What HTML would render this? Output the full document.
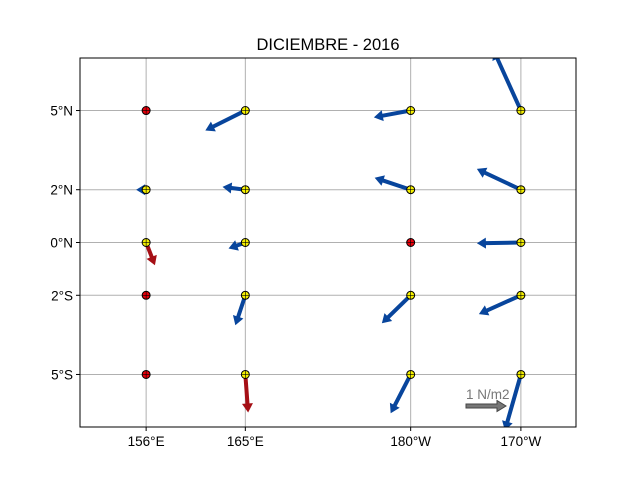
<!DOCTYPE html>
<html><head><meta charset="utf-8"><style>
body{margin:0;background:#fff}
svg text{font-family:"Liberation Sans","DejaVu Sans",sans-serif}
</style></head><body>
<svg id="chart" width="640" height="480" xmlns="http://www.w3.org/2000/svg">
<rect width="640" height="480" fill="#fff"/>
<text x="328" y="50" text-anchor="middle" font-size="16.5">DICIEMBRE - 2016</text>
<defs><clipPath id="clip"><rect x="80" y="58" width="496" height="369"/></clipPath></defs>
<g id="grid"></g>
<g id="arrows" clip-path="url(#clip)"></g>
<g id="markers"></g>
<rect x="80" y="58" width="496" height="369" fill="none" stroke="#000" stroke-width="1"/>
<g id="ticks"></g>
<g id="key"></g>
</svg>
<script>
const lonTicks=[156,165,180,190];
const lonLabels=["156°E","165°E","180°W","170°W"];
const latTicks=[5,2,0,-2,-5];
const latLabels=["5°N","2°N","0°N","2°S","5°S"];
const ptLon=[156,156,156,156,156,165,165,165,165,165,180,180,180,180,180,190,190,190,190,190];
const ptLat=[5,2,0,-2,-5,5,2,0,-2,-5,5,2,0,-2,-5,5,2,0,-2,-5];
const ptU=[0,-0.25,0.22,0,0,-1.0,-0.57,-0.42,-0.25,0.07,-0.92,-0.9,0,-0.72,-0.5,-0.68,-1.1,-1.1,-1.05,-0.4];
const ptV=[0,0,-0.57,0,0,-0.5,0.07,-0.15,-0.75,-0.95,-0.17,0.3,0,-0.7,-0.97,1.5,0.52,-0.02,-0.47,-1.4];
const ptValid=[0,1,1,0,0,1,1,1,1,1,1,1,0,1,1,1,1,1,1,1];
const ptRed=[0,0,1,0,0,0,0,0,0,1,0,0,0,0,0,0,0,0,0,0];
const X0=80,X1=576,LON0=150,LON1=195.0,Y0=58,Y1=427,LAT0=6.99,LAT1=-6.99;
const SC=40;
function xs(l){return X0+(l-LON0)/(LON1-LON0)*(X1-X0);}
function ys(l){return Y0+(LAT0-l)/(LAT0-LAT1)*(Y1-Y0);}
const NS="http://www.w3.org/2000/svg";
function mk(t,a,p){const e=document.createElementNS(NS,t);for(const k in a)e.setAttribute(k,a[k]);p.appendChild(e);return e;}
const G=document.getElementById('grid'),T=document.getElementById('ticks');
lonTicks.forEach((l,i)=>{const x=xs(l);
 const g=mk('line',{x1:x,x2:x,y1:Y0,y2:Y1,stroke:'#b0b0b0','stroke-width':1},G);
 
 mk('line',{x1:x,x2:x,y1:Y1,y2:Y1+4,stroke:'#000'},T);
 const t=mk('text',{x:x,y:Y1+19,'text-anchor':'middle','font-size':13.5},T);t.textContent=lonLabels[i];
 });
latTicks.forEach((l,i)=>{const y=ys(l);
 const g=mk('line',{x1:X0,x2:X1,y1:y,y2:y,stroke:'#b0b0b0','stroke-width':1},G);
 
 mk('line',{x1:X0-4,x2:X0,y1:y,y2:y,stroke:'#000'},T);
 const t=mk('text',{x:X0-7,y:y+5,'text-anchor':'end','font-size':13.5},T);t.textContent=latLabels[i];
 });
function arrow(x,y,dx,dy,fill,stroke,parent){
 const L=Math.hypot(dx,dy);if(L<0.5)return null;
 const ux=dx/L,uy=dy/L,px=-uy,py=ux;const w=2,hw=5.5,hl=Math.min(9,L);
 const bx=x+ux*(L-hl),by=y+uy*(L-hl);
 const pts=[[x+px*w,y+py*w],[bx+px*w,by+py*w],[bx+px*hw,by+py*hw],[x+dx,y+dy],[bx-px*hw,by-py*hw],[bx-px*w,by-py*w],[x-px*w,y-py*w]];
 return mk('polygon',{points:pts.map(p=>p.join(',')).join(' '),fill:fill,stroke:stroke,'stroke-width':stroke=='none'?0:1},parent);}
const A=document.getElementById('arrows'),M=document.getElementById('markers');
for(let i=0;i<ptLon.length;i++){
 const x=xs(ptLon[i]),y=ys(ptLat[i]);
 if(ptValid[i]){const a=arrow(x,y,ptU[i]*SC,-ptV[i]*SC,ptRed[i]?'#a50f15':'#08459c','none',A);
  if(a){}}
 const c=mk('circle',{cx:x,cy:y,r:4,fill:ptValid[i]?'#f5f000':'#e8000b',stroke:'#000','stroke-width':1},M);
 
 mk('line',{x1:x-4,x2:x+4,y1:y,y2:y,stroke:'#000','stroke-width':0.6},M);
 mk('line',{x1:x,x2:x,y1:y-4,y2:y+4,stroke:'#000','stroke-width':0.6},M);
}
const K=document.getElementById('key');
const ka=arrow(466,406,SC,0,'#777','#444',K);

const kt=mk('text',{x:466,y:399,'font-size':13.5,fill:'#777'},K);kt.textContent='1 N/m2';

</script>
</body></html>
